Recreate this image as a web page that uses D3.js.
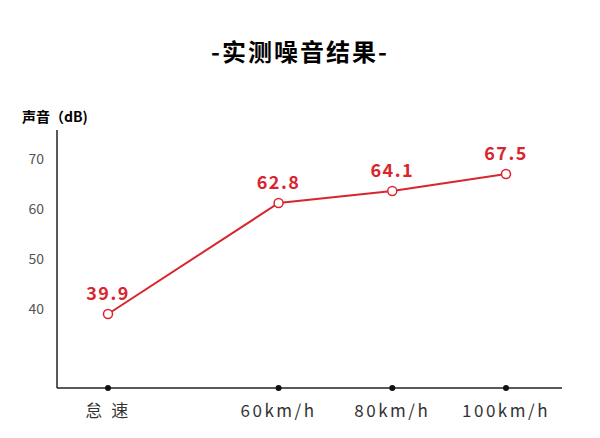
<!DOCTYPE html>
<meta charset="utf-8">
<style>
body{margin:0;background:#fff;font-family:"Noto Sans CJK SC","Noto Sans",sans-serif;}
</style>
<svg id="chart" width="600" height="438"></svg>
<script src="https://cdn.jsdelivr.net/npm/d3@7"></script>
<script>
// categories and where they sit along the axis (idle is set apart)
var categories = ['怠 速', '60km/h', '80km/h', '100km/h'],
    slots = [0, 1.5, 2.5, 3.5]
// printed labels, and the point heights as drawn in the picture
var labels = ['39.9', '62.8', '64.1', '67.5'],
    plotted = [39, 61.2, 63.6, 67]
var yTicks = [40, 50, 60, 70]

var svg = d3.select('#chart')
var red = '#d9262e'

var x = d3.scaleLinear().domain([0, 3.5]).range([108, 506])
var y = d3.scaleLinear().domain([24.2, 75.8]).range([388, 130])

svg.append('text').attr('x', 300).attr('y', 61).attr('text-anchor', 'middle')
    .style('font-size', '24px').style('font-weight', 'bold').style('letter-spacing', '2px')
    .text('-实测噪音结果-')

svg.append('text').attr('x', 22).attr('y', 122)
    .style('font-size', '14px').style('font-weight', 'bold')
    .text('声音（dB)')

// axes
svg.append('line').attr('x1', 57).attr('x2', 57).attr('y1', 130).attr('y2', 388)
    .attr('stroke', '#222').attr('stroke-width', 1.5)
svg.append('line').attr('x1', 57).attr('x2', 562).attr('y1', 388).attr('y2', 388)
    .attr('stroke', '#222').attr('stroke-width', 1.5)

svg.selectAll('.yt').data(yTicks).enter().append('text')
    .attr('x', 44).attr('y', function(d){ return y(d) + 5 })
    .attr('text-anchor', 'end').style('font-size', '14px').attr('fill', '#555')
    .text(function(d){ return d })

svg.selectAll('.xdot').data(slots).enter().append('circle')
    .attr('cx', function(d){ return x(d) }).attr('cy', 388).attr('r', 3).attr('fill', '#111')

svg.selectAll('.xt').data(categories).enter().append('text')
    .attr('x', function(d, i){ return x(slots[i]) }).attr('y', 417)
    .attr('text-anchor', 'middle').style('font-size', '17px').attr('fill', '#333')
    .style('letter-spacing', '2.5px')
    .text(function(d){ return d })

var line = d3.line().x(function(d, i){ return x(slots[i]) }).y(function(d){ return y(d) })
svg.append('path').datum(plotted).attr('d', line)
    .attr('fill', 'none').attr('stroke', red).attr('stroke-width', 2)

svg.selectAll('.pt').data(plotted).enter().append('circle')
    .attr('cx', function(d, i){ return x(slots[i]) }).attr('cy', function(d){ return y(d) })
    .attr('r', 4.5).attr('fill', '#fff').attr('stroke', red).attr('stroke-width', 1.5)

svg.selectAll('.lb').data(plotted).enter().append('text')
    .attr('x', function(d, i){ return x(slots[i]) }).attr('y', function(d){ return y(d) - 14 })
    .attr('text-anchor', 'middle').style('font-size', '18px').style('font-weight', '600')
    .style('letter-spacing', '1.5px').attr('fill', red)
    .text(function(d, i){ return labels[i] })
</script>
